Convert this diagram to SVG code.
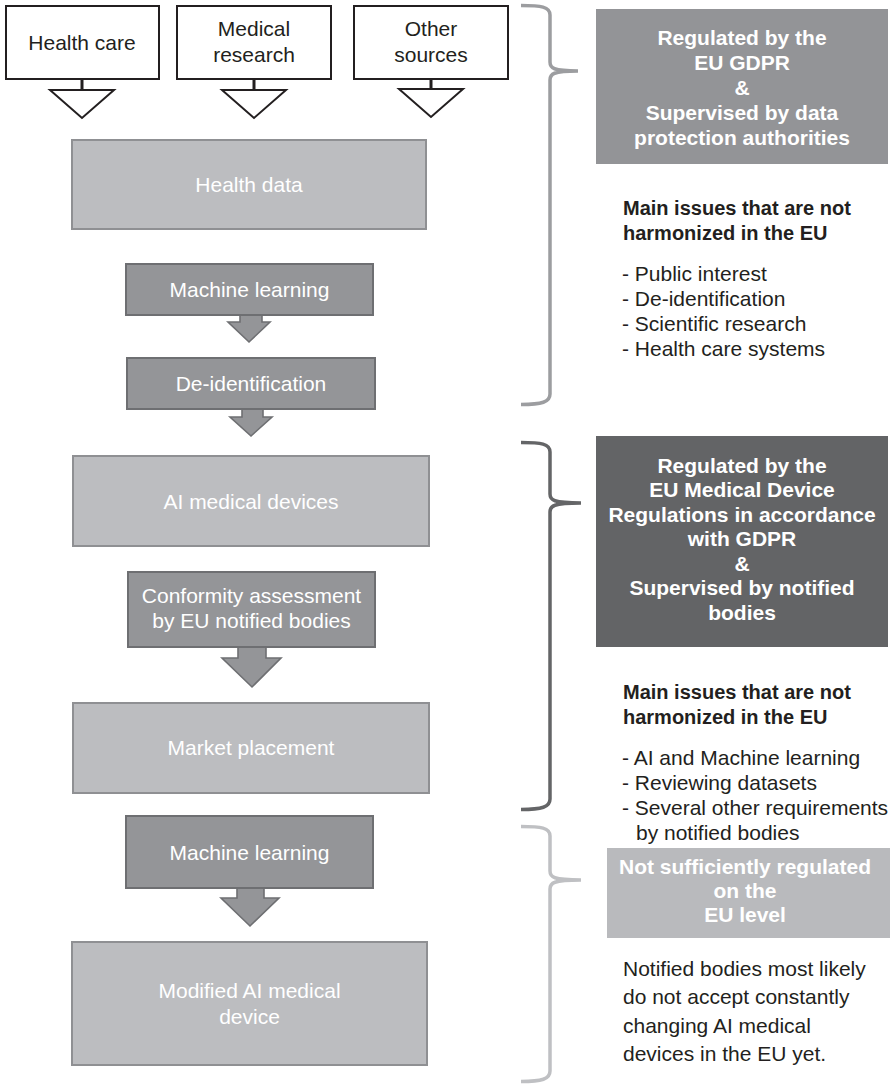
<svg xmlns="http://www.w3.org/2000/svg" width="894" height="1086" viewBox="0 0 894 1086">
<style>
.src{fill:#ffffff;stroke:#231f20;stroke-width:2}
.tri{fill:#ffffff;stroke:#231f20;stroke-width:2;stroke-linejoin:miter}
.stem{stroke:#231f20;stroke-width:3}
.light{fill:#bcbdc0;stroke:#8f9093;stroke-width:2}
.dark{fill:#949598;stroke:#6e6f72;stroke-width:2}
.arr{fill:#949598;stroke:#6e6f72;stroke-width:1.6;stroke-linejoin:miter}
.t{font-family:"Liberation Sans",Arial,sans-serif;font-size:21px;text-anchor:middle}
.blk{fill:#231f20}
.wht{fill:#ffffff}
.b{font-family:"Liberation Sans",Arial,sans-serif;font-size:21px;font-weight:bold;text-anchor:middle;fill:#ffffff}
.h{font-family:"Liberation Sans",Arial,sans-serif;font-size:20px;font-weight:bold;fill:#231f20}
.l{font-family:"Liberation Sans",Arial,sans-serif;font-size:21px;fill:#231f20}
.br{fill:none;stroke-width:3.5;stroke-linecap:butt}
</style>

<g id="connectors">
  <line class="stem" x1="82" y1="79" x2="82" y2="90"/>
  <polygon class="tri" points="50,90 114,90 82,118"/>
  <line class="stem" x1="254" y1="79" x2="254" y2="90"/>
  <polygon class="tri" points="222,90 286,90 254,118"/>
  <line class="stem" x1="431" y1="79" x2="431" y2="89"/>
  <polygon class="tri" points="399,89 463,89 431,117"/>
  <path class="arr" d="M240,315 L240,322 L228,322 L249,342 L270,322 L262,322 L262,315"/>
  <path class="arr" d="M242,409 L242,417 L230,417 L251,436 L272,417 L263,417 L263,409"/>
  <path class="arr" d="M238,647 L238,658 L222,658 L252,687 L281,658 L266,658 L266,647"/>
  <path class="arr" d="M237,888 L237,898 L221,898 L250,926 L279,898 L264,898 L264,888"/>
</g>

<g id="node-health-care">
  <rect class="src" x="6" y="6" width="153" height="73"/>
  <text class="t blk" x="82" y="50">Health care</text>
</g>
<g id="node-medical-research">
  <rect class="src" x="177" y="6" width="154" height="73"/>
  <text class="t blk" x="254" y="36">Medical</text>
  <text class="t blk" x="254" y="62">research</text>
</g>
<g id="node-other-sources">
  <rect class="src" x="354" y="6" width="154" height="73"/>
  <text class="t blk" x="431" y="36">Other</text>
  <text class="t blk" x="431" y="62">sources</text>
</g>
<g id="node-health-data">
  <rect class="light" x="72" y="140" width="354" height="89"/>
  <text class="t wht" x="249" y="191.5">Health data</text>
</g>
<g id="node-machine-learning-1">
  <rect class="dark" x="126" y="264" width="247" height="51"/>
  <text class="t wht" x="249.5" y="297">Machine learning</text>
</g>
<g id="node-de-identification">
  <rect class="dark" x="127" y="358" width="248" height="51"/>
  <text class="t wht" x="251" y="391">De-identification</text>
</g>
<g id="node-ai-medical-devices">
  <rect class="light" x="73" y="456" width="356" height="90"/>
  <text class="t wht" x="251" y="508.5">AI medical devices</text>
</g>
<g id="node-conformity">
  <rect class="dark" x="128" y="572" width="247" height="75"/>
  <text class="t wht" x="251.5" y="602.5">Conformity assessment</text>
  <text class="t wht" x="251.5" y="627.5">by EU notified bodies</text>
</g>
<g id="node-market-placement">
  <rect class="light" x="73" y="703" width="356" height="90"/>
  <text class="t wht" x="251" y="755">Market placement</text>
</g>
<g id="node-machine-learning-2">
  <rect class="dark" x="126" y="816" width="247" height="72"/>
  <text class="t wht" x="249.5" y="859.5">Machine learning</text>
</g>
<g id="node-modified">
  <rect class="light" x="72" y="942" width="355" height="123"/>
  <text class="t wht" x="249.5" y="997.5">Modified AI medical</text>
  <text class="t wht" x="249.5" y="1023.5">device</text>
</g>

<g id="brackets">
  <path class="br" stroke="#9c9da0" d="M521,5.5 C541,5.5 550,6.5 550,15 L550,62 C550,68 553,71 578,71 C553,71 550,74 550,80 L550,394 C550,402 542,404.5 521,404.5"/>
  <path class="br" stroke="#646567" d="M521,442.5 C541,442.5 550,443.5 550,452 L550,494 C550,500 553,503 581,503 C553,503 550,506 550,512 L550,799 C550,807 542,809.5 521,809.5"/>
  <path class="br" stroke="#bfc0c3" d="M521,826.5 C541,826.5 550,827.5 550,836 L550,871 C550,877 553,880 581,880 C553,880 550,883 550,889 L550,1071 C550,1079 542,1081.5 521,1081.5"/>
</g>

<g id="panel-gdpr">
  <rect x="596" y="9" width="292" height="155" fill="#939497"/>
  <text class="b" x="742" y="44.5">Regulated by the</text>
  <text class="b" x="742" y="69.5">EU GDPR</text>
  <text class="b" x="742" y="94.5">&amp;</text>
  <text class="b" x="742" y="119.5">Supervised by data</text>
  <text class="b" x="742" y="144.5">protection authorities</text>
</g>
<g id="issues-gdpr">
  <text class="h" x="623" y="214.5">Main issues that are not</text>
  <text class="h" x="623" y="239.5">harmonized in the EU</text>
  <text class="l" x="622" y="280.5">- Public interest</text>
  <text class="l" x="622" y="305.5">- De-identification</text>
  <text class="l" x="622" y="330.5">- Scientific research</text>
  <text class="l" x="622" y="355.5">- Health care systems</text>
</g>
<g id="panel-mdr">
  <rect x="596" y="436" width="292" height="211" fill="#636466"/>
  <text class="b" x="742" y="472.5">Regulated by the</text>
  <text class="b" x="742" y="497">EU Medical Device</text>
  <text class="b" x="742" y="521.5">Regulations in accordance</text>
  <text class="b" x="742" y="546">with GDPR</text>
  <text class="b" x="742" y="570.5">&amp;</text>
  <text class="b" x="742" y="595">Supervised by notified</text>
  <text class="b" x="742" y="619.5">bodies</text>
</g>
<g id="issues-mdr">
  <text class="h" x="623" y="699">Main issues that are not</text>
  <text class="h" x="623" y="724">harmonized in the EU</text>
  <text class="l" x="622" y="764.5">- AI and Machine learning</text>
  <text class="l" x="622" y="789.5">- Reviewing datasets</text>
  <text class="l" x="622" y="814.5">- Several other requirements</text>
  <text class="l" x="636" y="839.5">by notified bodies</text>
</g>
<g id="panel-not-regulated">
  <rect x="607" y="848" width="283" height="90" fill="#b9babd"/>
  <text class="b" x="745" y="874">Not sufficiently regulated</text>
  <text class="b" x="745" y="898">on the</text>
  <text class="b" x="745" y="922">EU level</text>
</g>
<g id="note-not-regulated">
  <text class="l" x="623" y="975.5">Notified bodies most likely</text>
  <text class="l" x="623" y="1004">do not accept constantly</text>
  <text class="l" x="623" y="1032.5">changing AI medical</text>
  <text class="l" x="623" y="1060.5">devices in the EU yet.</text>
</g>
</svg>
